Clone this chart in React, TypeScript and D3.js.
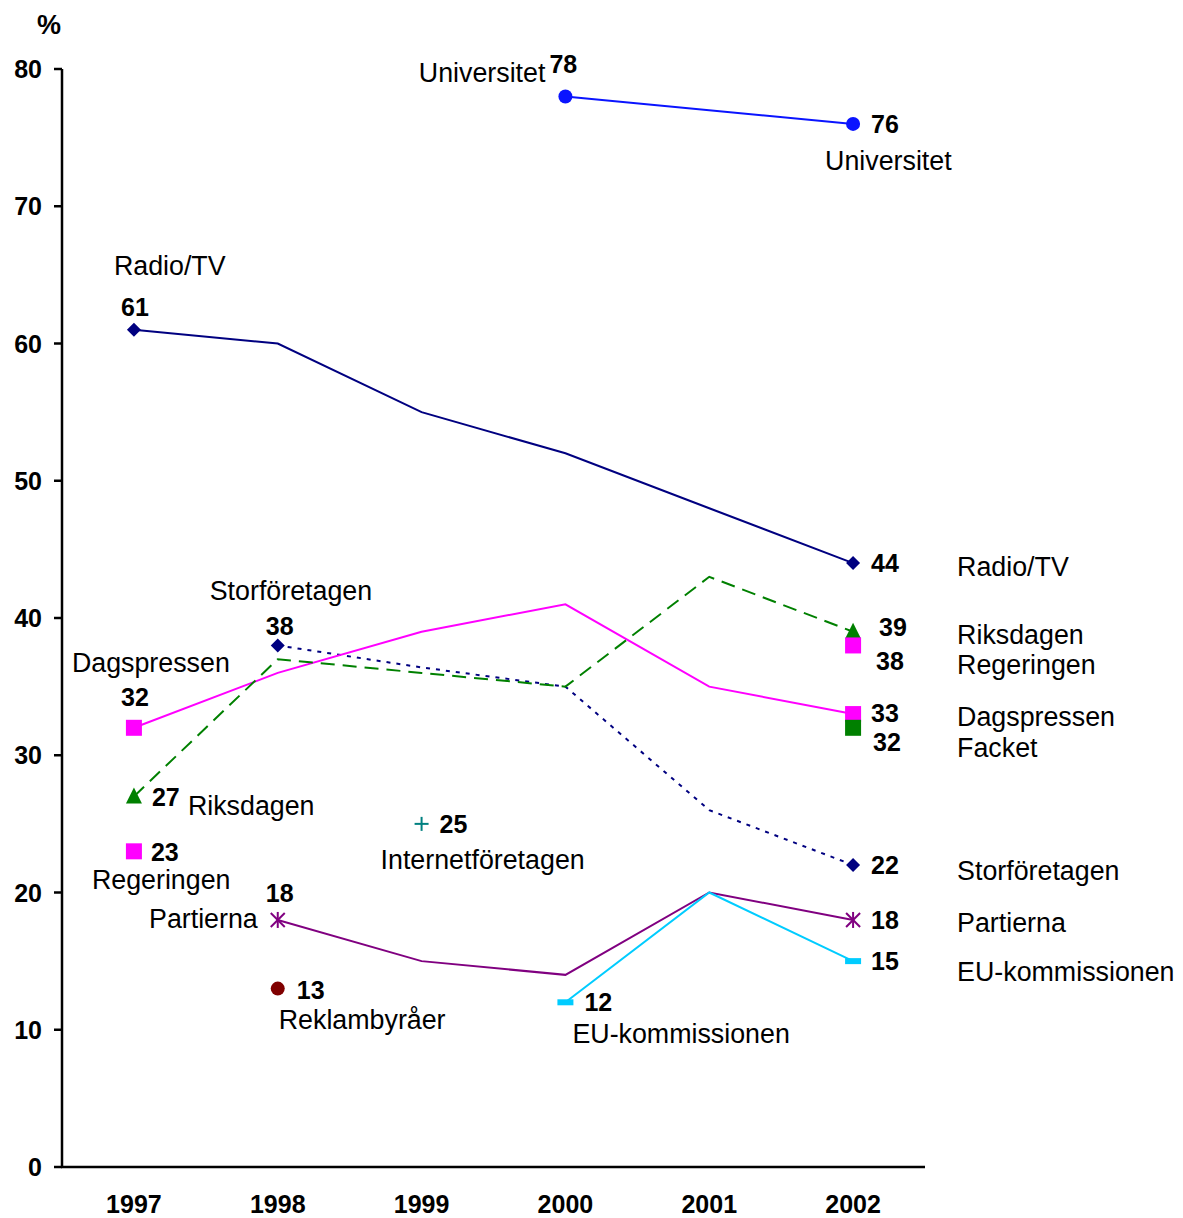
import React from "react";
import * as d3 from "d3";

const years = [1997, 1998, 1999, 2000, 2001, 2002];
const yTicks = [0, 10, 20, 30, 40, 50, 60, 70, 80];

const radioTV = [61, 60, 55, 52, 48, 44];
const storforetagen = [null, 38, 36.4, 35, 26, 22];
const riksdagen = [27, 37, 36, 35, 43, 39];
const dagspressen = [32, 36, 39, 41, 35, 33];
const universitet = [null, null, null, 78, null, 76];
const partierna = [null, 18, 15, 14, 20, 18];
const euKommissionen = [null, null, null, 12, 20, 15];
const regeringen = [23, null, null, null, null, 38];
const facket = [null, null, null, null, null, 32];
const reklambyraer = [null, 13, null, null, null, null];
const internetforetagen = [null, null, 25, null, null, null];

type Series = {
  name: string;
  values: (number | null)[];
  color: string;
  dash?: string;
  line: boolean;
  marker: string;
  markerYears: number[];
};

const series: Series[] = [
  { name: "Radio/TV", values: radioTV, color: "#000080", line: true, marker: "diamond", markerYears: [1997, 2002] },
  { name: "Storföretagen", values: storforetagen, color: "#000080", dash: "4,6", line: true, marker: "diamond", markerYears: [1998, 2002] },
  { name: "Dagspressen", values: dagspressen, color: "#ff00ff", line: true, marker: "square", markerYears: [1997, 2002] },
  { name: "Riksdagen", values: riksdagen, color: "#008000", dash: "14,8", line: true, marker: "triangle", markerYears: [1997, 2002] },
  { name: "Regeringen", values: regeringen, color: "#ff00ff", line: false, marker: "square", markerYears: [1997, 2002] },
  { name: "Facket", values: facket, color: "#008000", line: false, marker: "square", markerYears: [2002] },
  { name: "Universitet", values: universitet, color: "#0a14ff", line: true, marker: "circle", markerYears: [2000, 2002] },
  { name: "Partierna", values: partierna, color: "#800080", line: true, marker: "asterisk", markerYears: [1998, 2002] },
  { name: "EU-kommissionen", values: euKommissionen, color: "#00ccff", line: true, marker: "dash", markerYears: [2000, 2002] },
  { name: "Reklambyråer", values: reklambyraer, color: "#800000", line: false, marker: "circle", markerYears: [1998] },
  { name: "Internetföretagen", values: internetforetagen, color: "#008080", line: false, marker: "plus", markerYears: [1999] },
];

// annotations: text, anchor point (year, value), offsets
const annotations: { t: string; yr: number; v: number; dx: number; dy: number; bold?: boolean; anchor?: string }[] = [
  { t: "78", yr: 2000, v: 78, dx: -16, dy: -23, bold: true },
  { t: "Universitet", yr: 2000, v: 78, dx: -20, dy: -14, anchor: "end" },
  { t: "76", yr: 2002, v: 76, dx: 18, dy: 9, bold: true },
  { t: "Universitet", yr: 2002, v: 76, dx: -28, dy: 46 },
  { t: "61", yr: 1997, v: 61, dx: 1, dy: -14, bold: true, anchor: "middle" },
  { t: "Radio/TV", yr: 1997, v: 61, dx: -20, dy: -55 },
  { t: "44", yr: 2002, v: 44, dx: 18, dy: 9, bold: true },
  { t: "38", yr: 1998, v: 38, dx: 2, dy: -10, bold: true, anchor: "middle" },
  { t: "Storföretagen", yr: 1998, v: 38, dx: -68, dy: -45 },
  { t: "32", yr: 1997, v: 32, dx: 1, dy: -22, bold: true, anchor: "middle" },
  { t: "Dagspressen", yr: 1997, v: 32, dx: -62, dy: -56 },
  { t: "27", yr: 1997, v: 27, dx: 18, dy: 10, bold: true },
  { t: "Riksdagen", yr: 1997, v: 27, dx: 54, dy: 19 },
  { t: "25", yr: 1999, v: 25, dx: 18, dy: 9, bold: true },
  { t: "Internetföretagen", yr: 1999, v: 25, dx: -41, dy: 45 },
  { t: "23", yr: 1997, v: 23, dx: 17, dy: 10, bold: true },
  { t: "Regeringen", yr: 1997, v: 23, dx: -42, dy: 38 },
  { t: "18", yr: 1998, v: 18, dx: 2, dy: -18, bold: true, anchor: "middle" },
  { t: "Partierna", yr: 1998, v: 18, dx: -20, dy: 8, anchor: "end" },
  { t: "13", yr: 1998, v: 13, dx: 19, dy: 10, bold: true },
  { t: "Reklambyråer", yr: 1998, v: 13, dx: 1, dy: 40 },
  { t: "12", yr: 2000, v: 12, dx: 19, dy: 9, bold: true },
  { t: "EU-kommissionen", yr: 2000, v: 12, dx: 7, dy: 41 },
  { t: "39", yr: 2002, v: 39, dx: 26, dy: 4, bold: true },
  { t: "38", yr: 2002, v: 38, dx: 23, dy: 25, bold: true },
  { t: "33", yr: 2002, v: 33, dx: 18, dy: 8, bold: true },
  { t: "32", yr: 2002, v: 32, dx: 20, dy: 23, bold: true },
  { t: "22", yr: 2002, v: 22, dx: 18, dy: 9, bold: true },
  { t: "18", yr: 2002, v: 18, dx: 18, dy: 9, bold: true },
  { t: "15", yr: 2002, v: 15, dx: 18, dy: 9, bold: true },
  { t: "Radio/TV", yr: 2002, v: 44, dx: 104, dy: 13 },
  { t: "Riksdagen", yr: 2002, v: 39, dx: 104, dy: 12 },
  { t: "Regeringen", yr: 2002, v: 38, dx: 104, dy: 29 },
  { t: "Dagspressen", yr: 2002, v: 33, dx: 104, dy: 12 },
  { t: "Facket", yr: 2002, v: 32, dx: 104, dy: 29 },
  { t: "Storföretagen", yr: 2002, v: 22, dx: 104, dy: 15 },
  { t: "Partierna", yr: 2002, v: 18, dx: 104, dy: 12 },
  { t: "EU-kommissionen", yr: 2002, v: 15, dx: 104, dy: 20 },
];

const FONT = "'Liberation Sans', Arial, sans-serif";

function Marker({ kind, x, y, color }: { kind: string; x: number; y: number; color: string }) {
  if (kind === "diamond") {
    const r = 7;
    return <path d={`M${x},${y - r}L${x + r},${y}L${x},${y + r}L${x - r},${y}Z`} fill={color} />;
  }
  if (kind === "square") {
    const s = 8;
    return <rect x={x - s} y={y - s} width={2 * s} height={2 * s} fill={color} />;
  }
  if (kind === "triangle") {
    return <path d={`M${x},${y - 9}L${x + 8},${y + 7}L${x - 8},${y + 7}Z`} fill={color} />;
  }
  if (kind === "circle") {
    return <circle cx={x} cy={y} r={7} fill={color} />;
  }
  if (kind === "dash") {
    return <rect x={x - 8} y={y - 3} width={16} height={6} fill={color} />;
  }
  if (kind === "plus") {
    return (
      <g stroke={color} strokeWidth={2}>
        <line x1={x - 7} x2={x + 7} y1={y} y2={y} />
        <line x1={x} x2={x} y1={y - 7} y2={y + 7} />
      </g>
    );
  }
  if (kind === "asterisk") {
    const r = 7;
    return (
      <g stroke={color} strokeWidth={2}>
        <line x1={x - r} x2={x + r} y1={y - r} y2={y + r} />
        <line x1={x - r} x2={x + r} y1={y + r} y2={y - r} />
        <line x1={x} x2={x} y1={y - r - 1} y2={y + r + 1} />
      </g>
    );
  }
  return null;
}

export default function App() {
  const width = 1183;
  const height = 1218;
  const x = d3.scalePoint<number>().domain(years).range([62, 925]).padding(0.5);
  const y = d3.scaleLinear().domain([0, 80]).range([1167, 69]);

  const lineGen = d3
    .line<{ yr: number; v: number }>()
    .x((d) => x(d.yr) as number)
    .y((d) => y(d.v));

  return (
    <svg width={width} height={height} style={{ position: "absolute", left: 0, top: 0, background: "#fff" }}>
      <rect width={width} height={height} fill="#fff" />
      {/* axes */}
      <g stroke="#000" strokeWidth={2.5}>
        <line x1={62} x2={62} y1={y(80)} y2={y(0)} />
        <line x1={61} x2={925} y1={y(0)} y2={y(0)} />
        {yTicks.map((t) => (
          <line key={t} x1={54} x2={62} y1={y(t)} y2={y(t)} />
        ))}
      </g>
      {yTicks.map((t) => (
        <text key={t} x={42} y={y(t) + 9} textAnchor="end" fontFamily={FONT} fontWeight="bold" fontSize={25}>
          {t}
        </text>
      ))}
      {years.map((yr) => (
        <text key={yr} x={x(yr)} y={1213} textAnchor="middle" fontFamily={FONT} fontWeight="bold" fontSize={25}>
          {yr}
        </text>
      ))}
      <text x={49} y={34} textAnchor="middle" fontFamily={FONT} fontWeight="bold" fontSize={27}>
        %
      </text>

      {/* lines */}
      {series
        .filter((s) => s.line)
        .map((s) => (
          <path
            key={s.name}
            d={
              lineGen(
                years
                  .map((yr, i) => ({ yr, v: s.values[i] }))
                  .filter((d) => d.v !== null) as { yr: number; v: number }[]
              ) || ""
            }
            fill="none"
            stroke={s.color}
            strokeWidth={2}
            strokeDasharray={s.dash}
          />
        ))}
      {/* markers */}
      {series.map((s) =>
        years.map((yr, i) =>
          s.values[i] !== null && s.markerYears.includes(yr) ? (
            <Marker key={s.name + yr} kind={s.marker} x={x(yr) as number} y={y(s.values[i] as number)} color={s.color} />
          ) : null
        )
      )}
      {/* annotations */}
      {annotations.map((a, i) => (
        <text
          key={i}
          x={(x(a.yr) as number) + a.dx}
          y={y(a.v) + a.dy}
          textAnchor={a.anchor || "start"}
          fontFamily={FONT}
          fontWeight={a.bold ? "bold" : "normal"}
          fontSize={a.bold ? 25 : 26.8}
        >
          {a.t}
        </text>
      ))}
    </svg>
  );
}
